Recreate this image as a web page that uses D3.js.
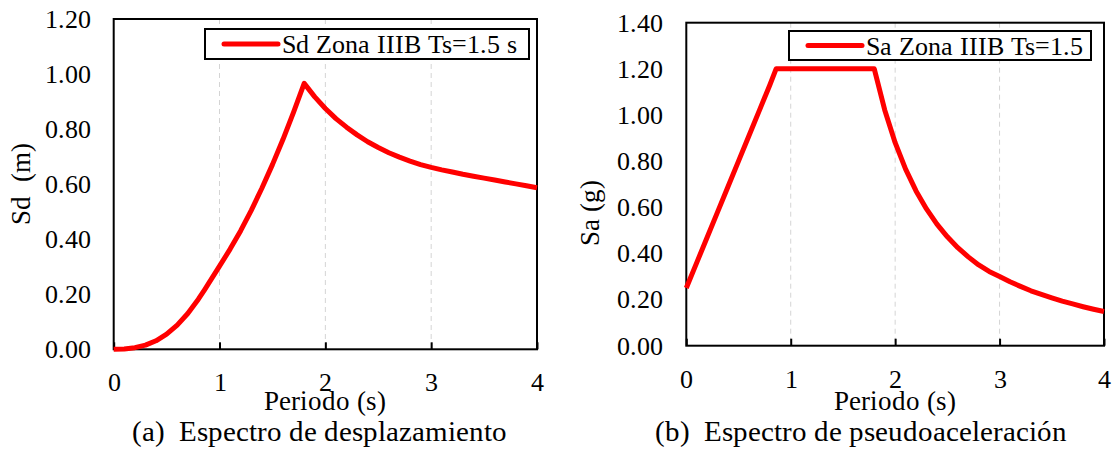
<!DOCTYPE html>
<html>
<head>
<meta charset="utf-8">
<script src="https://cdnjs.cloudflare.com/ajax/libs/d3/7.8.5/d3.min.js"></script>
<style>
  @font-face {
    font-family: "RefSerif";
    src: local("Liberation Serif"), local("LiberationSerif"), local("LiberationSerif-Regular"),
         local("Times New Roman"), local("TimesNewRomanPSMT"), local("Tinos"), local("Tinos-Regular"),
         local("DejaVu Serif"), local("DejaVuSerif"), local("Noto Serif"), local("NotoSerif-Regular");
  }
  body { margin: 0; background: #fff; }
  svg text { font-family: "RefSerif", "Liberation Serif", "DejaVu Serif", serif; fill: #000; white-space: pre; }
</style>
</head>
<body>
<svg id="chart" width="1112" height="458"></svg>
<script>
// periods (s)
var periods = [0, 0.1, 0.2, 0.3, 0.4, 0.5, 0.6, 0.7, 0.8, 0.86, 0.9, 1.0, 1.1, 1.2, 1.3, 1.4, 1.5, 1.6, 1.7, 1.8,
  1.9, 2.0, 2.1, 2.2, 2.3, 2.4, 2.5, 2.6, 2.7, 2.8, 2.9, 3.0, 3.1, 3.2, 3.3, 3.4, 3.5, 3.6, 3.7, 3.8, 3.9, 4.0];

// displacement spectrum Sd (m)
var sdValues = [0, 0.001, 0.006, 0.015, 0.031, 0.055, 0.088, 0.130, 0.182, 0.217, 0.241, 0.302, 0.364, 0.431, 0.505, 0.585, 0.671, 0.763, 0.862, 0.966,
  0.917, 0.875, 0.838, 0.807, 0.779, 0.754, 0.733, 0.714, 0.698, 0.684, 0.671, 0.661, 0.652, 0.644, 0.636, 0.629, 0.622, 0.615, 0.608, 0.601, 0.594, 0.587];

// pseudo-acceleration spectrum Sa (g)
var saValues = [0.25, 0.36, 0.47, 0.58, 0.69, 0.80, 0.91, 1.02, 1.13, 1.20, 1.20, 1.20, 1.20, 1.20, 1.20, 1.20, 1.20, 1.20, 1.20, 1.20,
  1.022, 0.880, 0.765, 0.671, 0.593, 0.527, 0.472, 0.425, 0.385, 0.350, 0.322, 0.300, 0.277, 0.257, 0.238, 0.222, 0.207, 0.193, 0.181, 0.169, 0.158, 0.148];

var xTicks = [0, 1, 2, 3, 4];
var sdTicks = [0, 0.2, 0.4, 0.6, 0.8, 1.0, 1.2];
var saTicks = [0, 0.2, 0.4, 0.6, 0.8, 1.0, 1.2, 1.4];

var sdLegend = "Sd Zona IIIB Ts=1.5 s";
var saLegend = "Sa Zona IIIB Ts=1.5";
var xTitle = "Periodo (s)";
var sdTitle = "Sd  (m)";
var saTitle = "Sa (g)";
var captionA = "(a)  Espectro de desplazamiento";
var captionB = "(b)  Espectro de pseudoaceleración";

var serif = '"RefSerif", "Liberation Serif", "DejaVu Serif", serif';

var svg = d3.select("#chart");

svg.append("rect").attr("width", 1112).attr("height", 458).attr("fill", "#fff");

function drawPanel(opt) {
  var x = d3.scaleLinear().domain([0, 4]).range([opt.left, opt.right]);
  var y = d3.scaleLinear().domain([0, opt.ymax]).range([opt.bottom, opt.top]);
  var g = svg.append("g").attr("font-family", serif);

  // vertical dashed gridlines
  g.selectAll(".grid")
    .data(xTicks.filter(d => d > 0 && d < 4))
    .enter().append("line")
      .attr("x1", d => x(d)).attr("x2", d => x(d))
      .attr("y1", opt.top).attr("y2", opt.bottom)
      .attr("stroke", "#d4d4d4")
      .attr("stroke-width", 1)
      .attr("stroke-dasharray", "5,4");

  // y axis labels
  g.append("g")
    .attr("transform", `translate(${opt.left},0)`)
    .call(d3.axisLeft(y).tickValues(opt.yTicks).tickFormat(d3.format(".2f")).tickSize(0).tickPadding(23))
    .attr("font-family", serif)
    .call(a => a.select(".domain").remove())
    .selectAll("text")
      .attr("font-size", 26);

  // x axis with inward ticks
  g.append("g")
    .attr("transform", `translate(0,${opt.bottom})`)
    .call(d3.axisBottom(x).tickValues(xTicks).tickFormat(d3.format("d")).tickSizeInner(-7).tickSizeOuter(0).tickPadding(23.5))
    .attr("font-family", serif)
    .call(a => a.select(".domain").remove())
    .call(a => a.selectAll("line").attr("stroke", "#000").attr("stroke-width", 2))
    .selectAll("text")
      .attr("font-size", 26);

  // plot border
  g.append("rect")
    .attr("x", opt.left).attr("y", opt.top)
    .attr("width", opt.right - opt.left).attr("height", opt.bottom - opt.top)
    .attr("fill", "none")
    .attr("stroke", "#000")
    .attr("stroke-width", 2);

  // data line
  var line = d3.line()
    .x((d, i) => x(periods[i]))
    .y(d => y(d));

  g.append("path")
    .datum(opt.values)
    .attr("d", line)
    .attr("fill", "none")
    .attr("stroke", "#ff0000")
    .attr("stroke-width", 5)
    .attr("stroke-linejoin", "round");

  // legend
  var lg = opt.legend;
  g.append("rect")
    .attr("x", lg.x).attr("y", lg.y)
    .attr("width", lg.w).attr("height", lg.h)
    .attr("fill", "#fff")
    .attr("stroke", "#000")
    .attr("stroke-width", 2);
  g.append("line")
    .attr("x1", lg.x + 19).attr("x2", lg.x + 73)
    .attr("y1", lg.y + lg.h / 2).attr("y2", lg.y + lg.h / 2)
    .attr("stroke", "#ff0000")
    .attr("stroke-width", 5)
    .attr("stroke-linecap", "round");
  g.append("text")
    .attr("x", lg.x + 77)
    .attr("y", lg.y + lg.h / 2 + 9)
    .attr("font-size", 26)
    .text(lg.label);

  // axis titles
  g.append("text")
    .attr("x", (opt.left + opt.right) / 2)
    .attr("y", 410)
    .attr("text-anchor", "middle")
    .attr("font-size", 26.5)
    .text(xTitle);

  g.append("text")
    .attr("transform", `translate(${opt.yTitleX},${opt.yTitleY}) rotate(-90)`)
    .attr("text-anchor", "middle")
    .attr("font-size", 26.5)
    .text(opt.yTitle);

  // caption
  g.append("text")
    .attr("x", opt.captionX)
    .attr("y", 441)
    .attr("text-anchor", "middle")
    .attr("font-size", 29.4)
    .text(opt.caption);
}

drawPanel({
  left: 113.7, right: 537, top: 19, bottom: 349.3, ymax: 1.2,
  yTicks: sdTicks, values: sdValues,
  legend: {x: 205, y: 29, w: 324, h: 30, label: sdLegend},
  yTitle: sdTitle, yTitleX: 30, yTitleY: 184,
  caption: captionA, captionX: 319
});

drawPanel({
  left: 686.3, right: 1104, top: 22.7, bottom: 345.7, ymax: 1.4,
  yTicks: saTicks, values: saValues,
  legend: {x: 789, y: 31, w: 302, h: 29, label: saLegend},
  yTitle: saTitle, yTitleX: 599, yTitleY: 213,
  caption: captionB, captionX: 861
});
</script>
</body>
</html>
